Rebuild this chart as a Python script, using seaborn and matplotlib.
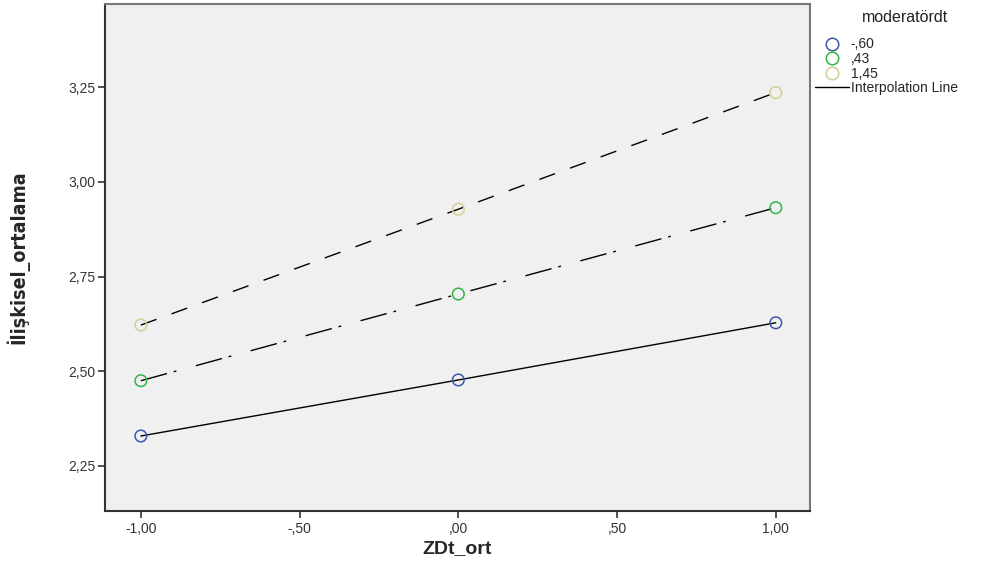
import matplotlib
matplotlib.use("Agg")
import matplotlib.pyplot as plt
import seaborn as sns
import pandas as pd
from matplotlib.lines import Line2D
from matplotlib.ticker import FuncFormatter

# values
x_vals = [-1.0, 0.0, 1.0]
groups = ["-,60", ",43", "1,45"]
y_low = [2.329, 2.477, 2.628]
y_mid = [2.475, 2.704, 2.932]
y_high = [2.622, 2.928, 3.236]
group_colors = ["#3E58AC", "#2EB848", "#D3CE97"]
x_ticks = [-1.0, -0.5, 0.0, 0.5, 1.0]
y_ticks = [2.25, 2.50, 2.75, 3.00, 3.25]

sns.set_style("white")
plt.rcParams['font.family'] = ['Liberation Sans', 'DejaVu Sans']

df = pd.DataFrame({
    "ZDt_ort": x_vals * 3,
    "ilişkisel_ortalama": y_low + y_mid + y_high,
    "moderatördt": [g for g in groups for _ in x_vals],
})

dash_styles = {
    "-,60": "-",
    ",43": (0, (19.5, 5, 2, 14.5)),
    "1,45": (0, (12, 11.5)),
}

fig = plt.figure(figsize=(9.96, 5.68), dpi=100)
ax = fig.add_axes([0.1054, 0.1004, 0.7076, 0.8926])
ax.set_facecolor("#F0F0F0")

for g, c in zip(groups, group_colors):
    sub = df[df["moderatördt"] == g]
    sns.lineplot(data=sub, x="ZDt_ort", y="ilişkisel_ortalama", color="black",
                 linewidth=1.0, linestyle=dash_styles[g], ax=ax, zorder=2)
    sns.scatterplot(data=sub, x="ZDt_ort", y="ilişkisel_ortalama", s=70,
                    facecolor="none", edgecolor=c, linewidth=1.1, ax=ax, zorder=3)

ax.set_xlim(-1.113, 1.107)
ax.set_ylim(2.131, 3.47)
ax.set_xticks(x_ticks)
ax.set_yticks(y_ticks)

def comma_fmt(v, pos):
    s = f"{v:.2f}".replace(".", ",")
    if s.startswith("0,"):
        s = s[1:]
    elif s.startswith("-0,"):
        s = "-" + s[2:]
    return s

ax.xaxis.set_major_formatter(FuncFormatter(comma_fmt))
ax.yaxis.set_major_formatter(FuncFormatter(comma_fmt))
ax.tick_params(axis="both", direction="out", length=5, width=1.2,
               labelsize=10, colors="#333333", bottom=True, left=True)
ax.tick_params(axis="y", pad=2)
ax.tick_params(axis="x", pad=3)
for side in ["left", "bottom"]:
    ax.spines[side].set_color("#333333")
    ax.spines[side].set_linewidth(1.5)
for side in ["top", "right"]:
    ax.spines[side].set_color("#777777")
    ax.spines[side].set_linewidth(1.5)

ax.set_xlabel("ZDt_ort", fontsize=14, fontweight="bold", labelpad=3)
ax.set_ylabel("İlişkisel_ortalama", fontsize=14, fontweight="bold", labelpad=28,
              family="DejaVu Sans", fontstretch="condensed")

handles = [Line2D([], [], linestyle="none", marker="o", markersize=9,
                  markerfacecolor="none", markeredgecolor=c, markeredgewidth=1.1)
           for c in group_colors]
handles.append(Line2D([], [], color="black", linewidth=1.0))
labels = groups + ["Interpolation Line"]
fig.text(0.9085, 0.970, "moderatördt", fontsize=11.5, ha="center", va="center",
         color="#222222")
leg = fig.legend(handles, labels, loc="upper left",
                 bbox_to_anchor=(0.818, 0.934), frameon=False, fontsize=10,
                 handlelength=2.45, handletextpad=0.15,
                 labelspacing=0.04, borderaxespad=0.0, borderpad=0.0)

fig.savefig("out.png", dpi=100)
